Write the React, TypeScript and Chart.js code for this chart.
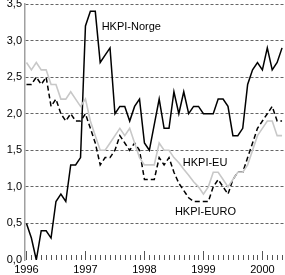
import React, { useEffect, useRef } from "react";
import { Chart, registerables } from "chart.js";

Chart.register(...registerables);

// Monthly data, Jan 1996 .. May 2000
const norge = [
  0.5, 0.3, 0.0, 0.4, 0.4, 0.3, 0.8, 0.9, 0.8, 1.3, 1.3, 1.4,
  3.2, 3.4, 3.4, 2.7, 2.8, 2.9, 2.0, 2.1, 2.1, 1.9, 2.1, 2.2,
  1.6, 1.5, 1.85, 2.2, 1.8, 1.8, 2.3, 2.0, 2.3, 2.0, 2.1, 2.1,
  2.0, 2.0, 2.0, 2.2, 2.2, 2.1, 1.7, 1.7, 1.8, 2.4, 2.6, 2.7,
  2.6, 2.9, 2.6, 2.7, 2.9,
];
const eu = [
  2.7, 2.6, 2.7, 2.6, 2.6, 2.4, 2.4, 2.2, 2.2, 2.3, 2.2, 2.1,
  2.2, 1.9, 1.7, 1.5, 1.5, 1.6, 1.7, 1.8, 1.7, 1.8, 1.6, 1.4,
  1.3, 1.3, 1.3, 1.6, 1.5, 1.5, 1.4, 1.33, 1.24, 1.16, 1.07, 1.0,
  0.9, 1.0, 1.2, 1.2, 1.1, 1.0, 1.1, 1.2, 1.2, 1.3, 1.5, 1.7,
  1.8, 1.9, 1.9, 1.7, 1.7,
];
const euro = [
  2.4, 2.4, 2.5, 2.4, 2.5, 2.1, 2.2, 2.0, 1.9, 2.0, 1.9, 1.9,
  2.0, 1.8, 1.6, 1.3, 1.4, 1.4, 1.5, 1.7, 1.6, 1.5, 1.6, 1.5,
  1.1, 1.1, 1.1, 1.4, 1.3, 1.4, 1.2, 1.05, 0.95, 0.85, 0.8, 0.8,
  0.8, 0.8, 1.0, 1.1, 1.0, 0.9, 1.1, 1.2, 1.2, 1.4, 1.6, 1.8,
  1.9, 2.0, 2.1, 1.9, 1.9,
];

const yearLabels = ["1996", "1997", "1998", "1999", "2000"];
const yearTickValues = [0, 12, 24, 36, 48];
const yTickValues = [0, 0.5, 1, 1.5, 2, 2.5, 3, 3.5];
const yTickLabels = ["0,0", "0,5", "1,0", "1,5", "2,0", "2,5", "3,0", "3,5"];

const seriesLabels = [
  { text: "HKPI-Norge", x: 15.3, y: 3.18 },
  { text: "HKPI-EU", x: 31.8, y: 1.33 },
  { text: "HKPI-EURO", x: 30.2, y: 0.66 },
];

const FONT = '"Liberation Sans", Arial, Helvetica, sans-serif';

const toPoints = (arr: number[]) => arr.map((v, i) => ({ x: i, y: v }));

const monthTicksPlugin = {
  id: "monthTicks",
  beforeDatasetsDraw(chart: any) {
    const { ctx, scales } = chart;
    const xs = scales.x;
    const ys = scales.y;
    const y0 = ys.getPixelForValue(0);
    ctx.save();
    ctx.strokeStyle = "#555";
    ctx.lineWidth = 1;
    for (let i = 0; i < norge.length; i++) {
      const x = Math.round(xs.getPixelForValue(i)) + 0.5;
      const len = yearTickValues.includes(i) ? 9 : 5;
      ctx.beginPath();
      ctx.moveTo(x, y0);
      ctx.lineTo(x, y0 - len);
      ctx.stroke();
    }
    ctx.restore();
  },
  afterDatasetsDraw(chart: any) {
    const { ctx, scales } = chart;
    ctx.save();
    ctx.font = `11px ${FONT}`;
    ctx.fillStyle = "#000";
    ctx.textAlign = "left";
    ctx.textBaseline = "middle";
    for (const l of seriesLabels) {
      ctx.fillText(l.text, scales.x.getPixelForValue(l.x), scales.y.getPixelForValue(l.y));
    }
    ctx.restore();
  },
};

export default function App() {
  const ref = useRef<HTMLCanvasElement | null>(null);

  useEffect(() => {
    document.body.style.margin = "0";
    const canvas = ref.current;
    if (!canvas) return;
    const chart = new Chart(canvas, {
      type: "line",
      data: {
        datasets: [
          {
            label: "HKPI-EU",
            data: toPoints(eu),
            borderColor: "#c8c8c8",
            borderWidth: 1.6,
            pointRadius: 0,
            tension: 0,
          },
          {
            label: "HKPI-EURO",
            data: toPoints(euro),
            borderColor: "#000",
            borderWidth: 1.5,
            borderDash: [5, 3],
            pointRadius: 0,
            tension: 0,
          },
          {
            label: "HKPI-Norge",
            data: toPoints(norge),
            borderColor: "#000",
            borderWidth: 1.5,
            pointRadius: 0,
            tension: 0,
          },
        ],
      },
      options: {
        animation: false,
        responsive: false,
        maintainAspectRatio: false,
        layout: { padding: { top: 4, left: 0, right: 0, bottom: 0 } },
        plugins: { legend: { display: false }, tooltip: { enabled: false } },
        scales: {
          x: {
            type: "linear",
            min: -0.3,
            max: 52.6,
            afterFit: (s: any) => {
              s.height = 15;
              s.paddingLeft = 0;
              s.paddingRight = 0;
            },
            afterBuildTicks: (s: any) => {
              s.ticks = yearTickValues.map((v) => ({ value: v }));
            },
            ticks: {
              autoSkip: false,
              maxRotation: 0,
              padding: 3,
              color: "#000",
              font: { family: FONT, size: 11 },
              callback: (v: any) => {
                const k = yearTickValues.indexOf(Number(v));
                return k >= 0 ? yearLabels[k] : "";
              },
            },
            grid: { display: false, drawTicks: false },
            border: { display: false },
          },
          y: {
            min: 0,
            max: 3.5,
            afterFit: (s: any) => {
              s.width = 25;
              s.paddingTop = 0;
              s.paddingBottom = 0;
            },
            afterBuildTicks: (s: any) => {
              s.ticks = yTickValues.map((v) => ({ value: v }));
            },
            ticks: {
              padding: 3,
              color: "#000",
              font: { family: FONT, size: 11 },
              callback: (v: any) => {
                const k = yTickValues.indexOf(Number(v));
                return k >= 0 ? yTickLabels[k] : "";
              },
            },
            grid: {
              drawTicks: false,
              lineWidth: 1,
              color: (c: any) => (c.tick && c.tick.value === 0 ? "rgba(0,0,0,0)" : "#666"),
            },
            border: { display: true, color: "#a0a0a0", width: 1.5, dash: [3, 2] },
          },
        },
      },
      plugins: [monthTicksPlugin],
    } as any);
    return () => chart.destroy();
  }, []);

  return (
    <div style={{ width: 285, height: 275 }}>
      <canvas ref={ref} width={285} height={275} style={{ display: "block" }} />
    </div>
  );
}
